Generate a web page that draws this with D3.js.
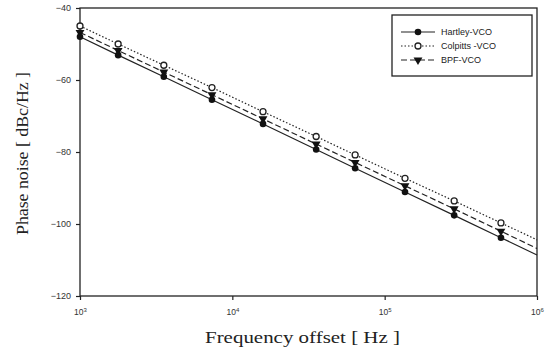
<!DOCTYPE html>
<html>
<head>
<meta charset="utf-8">
<script src="https://cdn.jsdelivr.net/npm/d3@7"></script>
<style>
  body { margin: 0; background: #fff; }
  svg { display: block; }
</style>
</head>
<body>
<svg id="chart"></svg>
<script>
// marker frequencies (Hz)
const freqs = [1000, 1780, 3550, 7350, 15900, 35500, 64000, 136000, 286000, 580000];
const lineEndFreq = 1000000;

const hartley = [-48, -53.1, -59.1, -65.5, -72.2, -79.3, -84.5, -91.1, -97.6, -103.8];
const colpitts = [-45, -50, -55.9, -62.1, -68.8, -75.7, -80.8, -87.3, -93.6, -99.7];
const bpf = [-46.8, -51.8, -57.8, -64.1, -70.8, -77.8, -82.9, -89.4, -95.8, -102];
// fitted lines keep going to 10^6
const lineEnds = [-108.6, -104.4, -106.8];

const seriesNames = ['Hartley-VCO', 'Colpitts -VCO', 'BPF-VCO'];
const yTicks = [-40, -60, -80, -100, -120];
const xTicks = [1e3, 1e4, 1e5, 1e6];
const xTickExp = ['3', '4', '5', '6'];

const width = 550, height = 353;
const margin = { top: 8, right: 13, bottom: 57, left: 80 };

const svg = d3.select('#chart')
    .attr('width', width)
    .attr('height', height);

const x = d3.scaleLog()
    .domain([1e3, 1e6])
    .range([margin.left, width - margin.right]);

const y = d3.scaleLinear()
    .domain([-120, -40])
    .range([height - margin.bottom, margin.top]);

// frame
svg.append('rect')
    .attr('x', x(1e3))
    .attr('y', y(-40))
    .attr('width', x(1e6) - x(1e3))
    .attr('height', y(-120) - y(-40))
    .attr('fill', 'none')
    .attr('stroke', '#222')
    .attr('stroke-width', 1.3);

// y axis
const yAxis = svg.append('g')
    .attr('transform', `translate(${x(1e3)},0)`)
    .call(d3.axisLeft(y).tickValues(yTicks).tickSize(4).tickPadding(5).tickFormat(d3.format('d')));
yAxis.select('.domain').remove();
yAxis.selectAll('line').attr('stroke', '#222').attr('stroke-width', 1.2);
yAxis.selectAll('text')
    .attr('font-family', 'Liberation Sans, Arial, sans-serif')
    .attr('font-size', 9)
    .attr('fill', '#333');

// x axis
const xAxis = svg.append('g')
    .attr('transform', `translate(0,${y(-120)})`)
    .call(d3.axisBottom(x).tickValues(xTicks).tickSize(4).tickPadding(9).tickFormat(() => ''));
xAxis.select('.domain').remove();
xAxis.selectAll('line').attr('stroke', '#222').attr('stroke-width', 1.2);
xAxis.selectAll('.tick text')
    .attr('font-family', 'Liberation Sans, Arial, sans-serif')
    .attr('font-size', 8.5)
    .attr('fill', '#333')
    .each(function(d, i) {
        const t = d3.select(this);
        t.append('tspan').text('10');
        t.append('tspan').attr('dy', -3).attr('font-size', 6).text(xTickExp[i]);
    });

// axis titles
svg.append('text')
    .attr('x', 205)
    .attr('y', 343)
    .attr('textLength', 195)
    .attr('lengthAdjust', 'spacingAndGlyphs')
    .attr('font-family', 'Liberation Serif, Times New Roman, serif')
    .attr('font-size', 17)
    .attr('fill', '#222')
    .text('Frequency offset [ Hz ]');

svg.append('text')
    .attr('transform', `translate(28,235) rotate(-90)`)
    .attr('textLength', 163)
    .attr('lengthAdjust', 'spacingAndGlyphs')
    .attr('font-family', 'Liberation Serif, Times New Roman, serif')
    .attr('font-size', 16)
    .attr('fill', '#222')
    .text('Phase noise [ dBc/Hz ]');

// series
const series = [
    { name: seriesNames[0], values: hartley, end: lineEnds[0], dash: null, marker: 'filled' },
    { name: seriesNames[1], values: colpitts, end: lineEnds[1], dash: '1.5,2', marker: 'open' },
    { name: seriesNames[2], values: bpf, end: lineEnds[2], dash: '6,3', marker: 'triangle' }
];

const line = d3.line()
    .x(d => x(d[0]))
    .y(d => y(d[1]));

const tri = d3.symbol().type(d3.symbolTriangle).size(34);

function drawMarker(g, kind, cx, cy) {
    if (kind === 'filled') {
        g.append('circle').attr('cx', cx).attr('cy', cy).attr('r', 3.3).attr('fill', '#111');
    } else if (kind === 'open') {
        g.append('circle').attr('cx', cx).attr('cy', cy).attr('r', 3)
            .attr('fill', '#fff').attr('stroke', '#222').attr('stroke-width', 1.3);
    } else {
        g.append('path').attr('d', tri)
            .attr('transform', `translate(${cx},${cy}) rotate(180)`)
            .attr('fill', '#111');
    }
}

const plot = svg.append('g');

series.forEach(s => {
    const pts = freqs.map((f, i) => [f, s.values[i]]);
    pts.push([lineEndFreq, s.end]);
    plot.append('path')
        .attr('d', line(pts))
        .attr('fill', 'none')
        .attr('stroke', '#222')
        .attr('stroke-width', 1.2)
        .attr('stroke-dasharray', s.dash);
});

// draw markers so hartley ends up on top like the reference
[series[1], series[2], series[0]].forEach(s => {
    const g = plot.append('g');
    freqs.forEach((f, i) => drawMarker(g, s.marker, x(f), y(s.values[i])));
});

// legend
const legend = svg.append('g').attr('transform', 'translate(392,15)');
legend.append('rect')
    .attr('width', 140)
    .attr('height', 61)
    .attr('fill', '#fff')
    .attr('stroke', '#222')
    .attr('stroke-width', 1.3);

series.forEach((s, i) => {
    const ly = 17 + i * 14;
    legend.append('line')
        .attr('x1', 9).attr('x2', 43)
        .attr('y1', ly).attr('y2', ly)
        .attr('stroke', '#222')
        .attr('stroke-width', 1.2)
        .attr('stroke-dasharray', s.dash);
    drawMarker(legend, s.marker, 26, ly);
    legend.append('text')
        .attr('x', 49)
        .attr('y', ly + 3)
        .attr('font-family', 'Liberation Sans, Arial, sans-serif')
        .attr('font-size', 9)
        .attr('fill', '#222')
        .text(s.name);
});
</script>
</body>
</html>
